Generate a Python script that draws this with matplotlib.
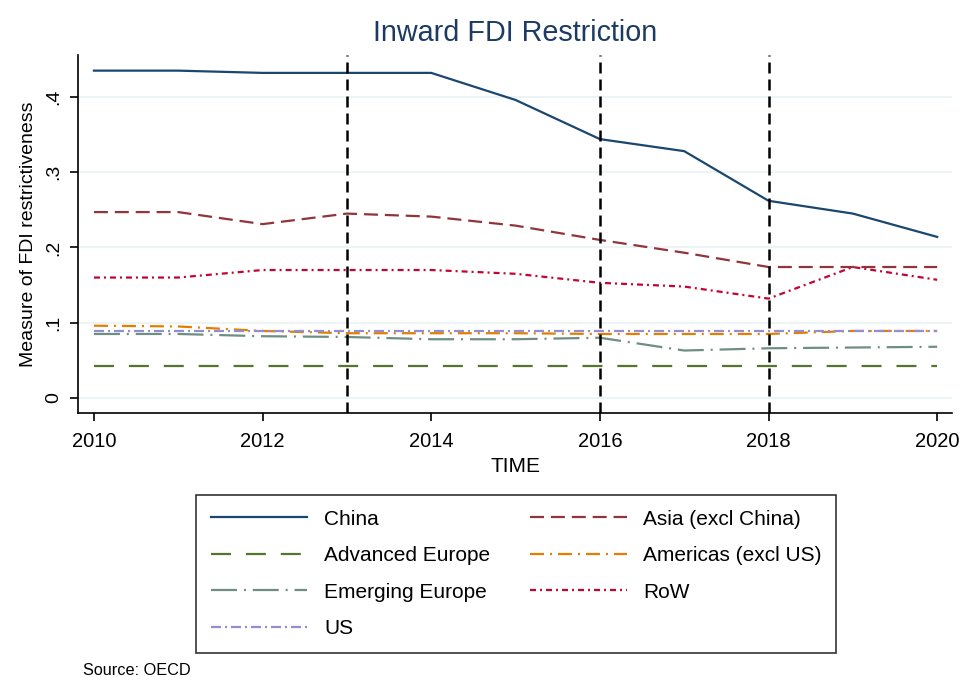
"""
Inward FDI restriction chart (OECD FDI restrictiveness index)
"""
import matplotlib
matplotlib.use('Agg')
import matplotlib.pyplot as plt
import numpy as np

years = np.arange(2010, 2021)

china = [0.435, 0.435, 0.432, 0.432, 0.432, 0.396, 0.344, 0.328, 0.262, 0.245, 0.214]
asia = [0.247, 0.247, 0.231, 0.245, 0.241, 0.229, 0.210, 0.193, 0.174, 0.174, 0.174]
adv_europe = [0.042, 0.042, 0.042, 0.042, 0.042, 0.042, 0.042, 0.042, 0.042, 0.042, 0.042]
americas = [0.096, 0.095, 0.089, 0.086, 0.086, 0.086, 0.085, 0.085, 0.085, 0.089, 0.089]
emerging_europe = [0.085, 0.085, 0.082, 0.081, 0.078, 0.078, 0.080, 0.063, 0.066, 0.067, 0.068]
row = [0.160, 0.160, 0.170, 0.170, 0.170, 0.165, 0.153, 0.148, 0.132, 0.174, 0.157]
us = [0.089, 0.089, 0.089, 0.089, 0.089, 0.089, 0.089, 0.089, 0.089, 0.089, 0.089]

event_years = [2013, 2016, 2018]
y_ticks = [0, 0.1, 0.2, 0.3, 0.4]
y_tick_labels = ['0', '.1', '.2', '.3', '.4']
x_ticks = [2010, 2012, 2014, 2016, 2018, 2020]

plt.rcParams['font.family'] = ['Liberation Sans', 'DejaVu Sans']

fig = plt.figure(figsize=(9.62, 6.77), dpi=100)
ax = fig.add_axes([0.081, 0.390, 0.909, 0.529])

ax.set_xlim(2009.81, 2020.18)
ax.set_ylim(-0.020, 0.456)

for yt in y_ticks:
    ax.axhline(yt, color='#eaf2f3', linewidth=1.2, zorder=0)

lw = 1.6
h_china, = ax.plot(years, china, color='#1a476f', linewidth=lw, label='China')
h_asia, = ax.plot(years, asia, color='#90353b', linewidth=lw,
                  dashes=(6.3, 3.1), label='Asia (excl China)')
h_adv, = ax.plot(years, adv_europe, color='#55752f', linewidth=lw,
                 dashes=(9, 6.7), label='Advanced Europe')
h_am, = ax.plot(years, americas, color='#e37e00', linewidth=lw,
                dashes=(6.3, 2.7, 0.9, 2.7), label='Americas (excl US)')
h_em, = ax.plot(years, emerging_europe, color='#6e8e84', linewidth=lw,
                dashes=(11.7, 3.1, 0.9, 3.1), label='Emerging Europe')
h_row, = ax.plot(years, row, color='#c10534', linewidth=lw,
                 dashes=(2.7, 1.8, 0.9, 1.8), label='RoW')
h_us, = ax.plot(years, us, color='#938dd2', linewidth=lw,
                dashes=(4.5, 1.8, 0.9, 1.8), label='US')

for ey in event_years:
    ax.axvline(ey, color='black', linewidth=1.8, dashes=(4.4, 2.4), zorder=5)

ax.spines['top'].set_visible(False)
ax.spines['right'].set_visible(False)
ax.spines['left'].set_linewidth(1.2)
ax.spines['bottom'].set_linewidth(1.2)

ax.set_yticks(y_ticks)
ax.set_yticklabels(y_tick_labels, rotation=90, va='center', fontsize=14)
ax.set_xticks(x_ticks)
ax.set_xticklabels([str(x) for x in x_ticks], fontsize=14.5)
ax.tick_params(axis='both', length=6, width=1.2)
ax.tick_params(axis='x', pad=8)
ax.tick_params(axis='y', pad=5)

ax.set_xlabel('TIME', fontsize=15, labelpad=4)
ax.set_ylabel('Measure of FDI restrictiveness', fontsize=14, labelpad=6)
ax.set_title('Inward FDI Restriction', fontsize=20.7, color='#1c3b63', pad=10)

handles = [h_china, h_adv, h_em, h_us, h_asia, h_am, h_row]
leg = fig.legend(handles=handles, labels=[h.get_label() for h in handles],
                 ncol=2, loc='upper left', bbox_to_anchor=(196 / 962, 1 - 495 / 677),
                 borderaxespad=0, frameon=True, fancybox=False, edgecolor='black',
                 fontsize=15, handlelength=4.65, columnspacing=1.9,
                 labelspacing=0.84, borderpad=0.7, handletextpad=0.8)
leg.get_frame().set_linewidth(1.2)

fig.text(83 / 962, 2 / 677, 'Source: OECD', fontsize=11.7, ha='left', va='baseline')

plt.savefig('out.png', dpi=100)
